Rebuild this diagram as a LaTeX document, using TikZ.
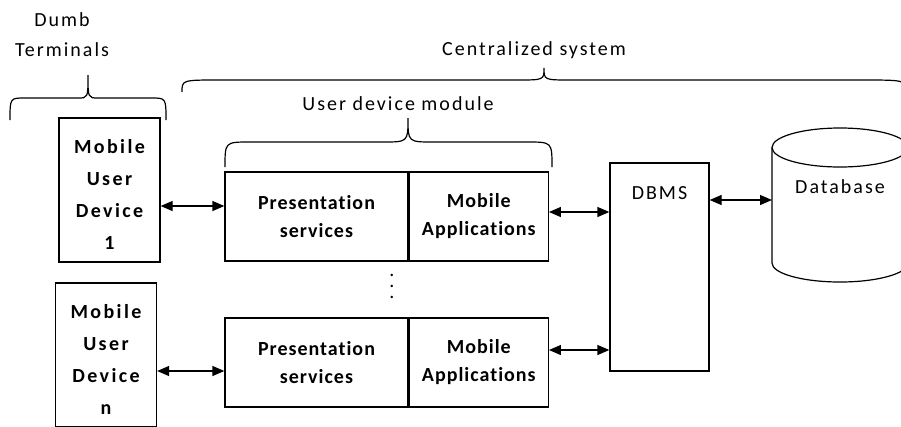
\documentclass[tikz,border=0pt]{standalone}
\usepackage{fontspec}
\setmainfont{Carlito}[LetterSpace=10, Ligatures=NoCommon]
\newfontfamily\boxfont{Carlito}[LetterSpace=5, Ligatures=NoCommon]
\newfontfamily\termfont{Carlito}[LetterSpace=12, Ligatures=NoCommon]
\usepackage{tikz}
\usetikzlibrary{arrows.meta, positioning, calc}
\tikzset{
  termblock/.style={rectangle, draw, line width=1.3pt,
    minimum width=101pt, minimum height=144pt, inner sep=0pt,
    align=center, font=\termfont\bfseries\fontsize{20}{32}\selectfont},
  svcblock/.style={rectangle, draw, line width=1.3pt,
    minimum height=89pt, inner sep=0pt,
    align=center, font=\boxfont\bfseries\fontsize{20}{28}\selectfont},
  dbmsblock/.style={rectangle, draw, line width=1.3pt,
    minimum width=99pt, minimum height=208pt, inner sep=0pt},
  dbline/.style={line width=1.2pt},
  lbl/.style={font=\fontsize{20}{30}\selectfont, inner sep=0pt},
  dblarrow/.style={{Triangle[length=12pt,width=10pt]}-{Triangle[length=12pt,width=10pt]},
    line width=1.3pt},
  bracket/.style={line width=1.2pt}
}

\begin{document}
\begin{tikzpicture}[x=1pt, y=-1pt]
  \clip (0,0) rectangle (901,426);

  % Mobile user devices
  \node[termblock] (term1) at (109.5,190) {\rule{0pt}{22pt}Mobile\\User\\Device\\1};
  \node[termblock] (termn) at (106,355) {\rule{0pt}{22pt}Mobile\\User\\Device\\n};

  % User device modules
  \node[svcblock, minimum width=183pt] (pres1) at (316.5,216.5) {Presentation\\services};
  \node[svcblock, minimum width=139pt, right=0pt of pres1] (app1) {Mobile\\Applications};
  \node[svcblock, minimum width=183pt] (presn) at (316.5,362.5) {Presentation\\services};
  \node[svcblock, minimum width=139pt, right=0pt of presn] (appn) {Mobile\\Applications};
  \node[lbl, align=center, font=\fontsize{20}{11}\selectfont] (dots) at (392,286) {.\\.\\.};

  % DBMS and database
  \node[dbmsblock] (dbms) at (659.5,267) {};
  \node[lbl, anchor=base] (dbmslbl) at (659.5,199) {DBMS};
  \draw[dbline] (840,147.5) ellipse [x radius=68, y radius=19.5];
  \draw[dbline] (772,147.5) -- (772,263) arc [start angle=180, end angle=0, x radius=68, y radius=19] -- (908,147.5);
  \coordinate (db) at (772,200);
  \node[lbl, anchor=base] (dblbl) at (840,193) {Database};

  % Connections
  \draw[dblarrow] (term1.east |- 0,206) -- (pres1.west |- 0,206);
  \draw[dblarrow] (termn.east |- 0,371) -- (presn.west |- 0,371);
  \draw[dblarrow] (app1.east |- 0,212) -- (dbms.west |- 0,212);
  \draw[dblarrow] (appn.east |- 0,350) -- (dbms.west |- 0,350);
  \draw[dblarrow] (dbms.east |- db) -- (db);

  % Braces and their labels
  \draw[bracket] (10,120) .. controls (10,98) .. (25,98) -- (78,98)
    .. controls (88,98) .. (88,75) .. controls (88,98) .. (98,98)
    -- (151,98) .. controls (166,98) .. (166,120);
  \node[lbl, align=center] (dumb) at (62,35) {Dumb\\Terminals};

  \draw[bracket] (182,92) .. controls (182,80) .. (220,80) -- (517,80)
    .. controls (544,80) .. (544,68) .. controls (544,80) .. (571,80)
    -- (860,80) .. controls (906,80) .. (906,92);
  \node[lbl, anchor=base] (central) at (534,55) {Centralized system};

  \draw[bracket] (225,167) .. controls (225,142) .. (250,142) -- (383,142)
    .. controls (408,142) .. (408,118) .. controls (408,142) .. (433,142)
    -- (527,142) .. controls (552,142) .. (552,167);
  \node[lbl, anchor=base] (udm) at (398,110) {User device module};
\end{tikzpicture}
\end{document}
